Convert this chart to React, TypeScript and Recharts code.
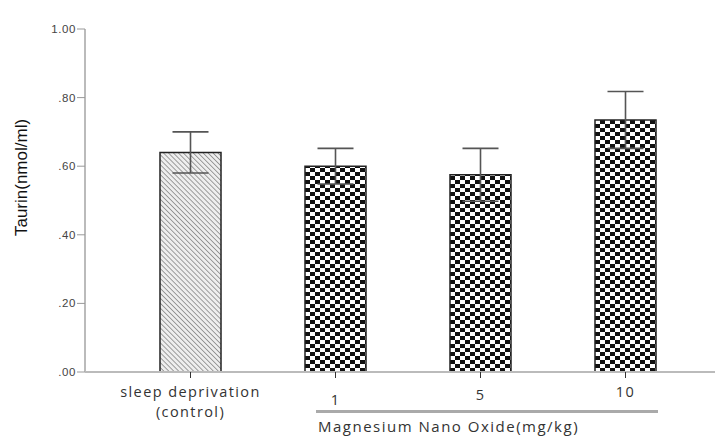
import React from "react"
import { BarChart, Bar, XAxis, YAxis, ErrorBar, Cell } from "recharts"

// groups on the x axis
const groups = ["sleep deprivation\n(control)", "1", "5", "10"]
// mean taurin (nmol/ml) per group
const means = [0.64, 0.6, 0.575, 0.735]
// error bar half-length per group
const errors = [0.06, 0.052, 0.077, 0.083]
const yTicks = [0, 0.2, 0.4, 0.6, 0.8, 1]

// fills: control is hatched, the treated groups are checkered
const fills = ["url(#hatch)", "url(#checker)", "url(#checker)", "url(#checker)"]
// the original labels sit at slightly different heights
const labelDy = [17, 25, 20, 17]

const chartData = groups.map((g, i) => ({ group: g, mean: means[i], err: errors[i] }))

const fmtTick = (v: number) => {
  const s = v.toFixed(2)
  return s.startsWith("0") ? s.slice(1) : s
}

function GroupTick(props: any) {
  const { x, y, payload, index } = props
  const lines = String(payload.value).split("\n")
  return (
    <g>
      {lines.map((line, i) => (
        <text
          key={i}
          x={x}
          y={y}
          dy={labelDy[index] + i * 20}
          textAnchor="middle"
          fill="#333"
          fontSize={14.5}
          letterSpacing={1.4}
          fontFamily="'Open Sans', sans-serif"
        >
          {line}
        </text>
      ))}
    </g>
  )
}

export default function App() {
  return (
    <div style={{ position: "absolute", left: 0, top: 0, width: 719, height: 437, background: "#fff" }}>
      <BarChart width={719} height={437} data={chartData} margin={{ top: 29, right: 4, bottom: 35, left: 0 }}>
        <defs>
          <pattern id="hatch" patternUnits="userSpaceOnUse" width={3.5} height={3.5} patternTransform="rotate(-45)">
            <rect width={3.5} height={3.5} fill="#eee" />
            <line x1={0} y1={0} x2={0} y2={3.5} stroke="#888" strokeWidth={1.6} />
          </pattern>
          <pattern id="checker" patternUnits="userSpaceOnUse" width={10} height={8}>
            <rect width={10} height={8} fill="#fff" />
            <rect x={0} y={0} width={5} height={4} fill="#111" />
            <rect x={5} y={4} width={5} height={4} fill="#111" />
          </pattern>
        </defs>
        <XAxis
          dataKey="group"
          height={30}
          padding={{ left: 33, right: 17 }}
          axisLine={{ stroke: "#bbb", strokeWidth: 2 }}
          tickLine={{ stroke: "#333" }}
          tickSize={6}
          tickMargin={2}
          interval={0}
          tick={<GroupTick />}
        />
        <YAxis
          width={85}
          domain={[0, 1]}
          ticks={yTicks}
          tickFormatter={fmtTick}
          axisLine={{ stroke: "#bbb", strokeWidth: 2 }}
          tickLine={{ stroke: "#999" }}
          tickSize={8}
          tickMargin={1}
          tick={{ fill: "#444", fontSize: 11.5, letterSpacing: 0.6, fontFamily: "'Liberation Sans', Arial, sans-serif" }}
          label={{
            value: "Taurin(nmol/ml)",
            angle: -90,
            position: "insideLeft",
            offset: 21,
            dy: -23,
            style: { fill: "#111", fontSize: 17, fontFamily: "'Liberation Sans', Arial, sans-serif", textAnchor: "middle" },
          }}
        />
        <Bar dataKey="mean" barSize={61} stroke="#222" strokeWidth={1.5} isAnimationActive={false}>
          {chartData.map((d, i) => (
            <Cell key={d.group} fill={fills[i]} />
          ))}
          <ErrorBar dataKey="err" width={18} stroke="#555" strokeWidth={1.6} direction="y" isAnimationActive={false} />
        </Bar>
      </BarChart>
      <div style={{ position: "absolute", left: 316, top: 410, width: 342, height: 3, background: "#aaa" }} />
      <div
        style={{
          position: "absolute",
          left: 318,
          top: 416,
          fontSize: 15,
          letterSpacing: 1.5,
          color: "#333",
          fontFamily: "'Open Sans', sans-serif",
          whiteSpace: "nowrap",
        }}
      >
        Magnesium Nano Oxide(mg/kg)
      </div>
    </div>
  )
}
